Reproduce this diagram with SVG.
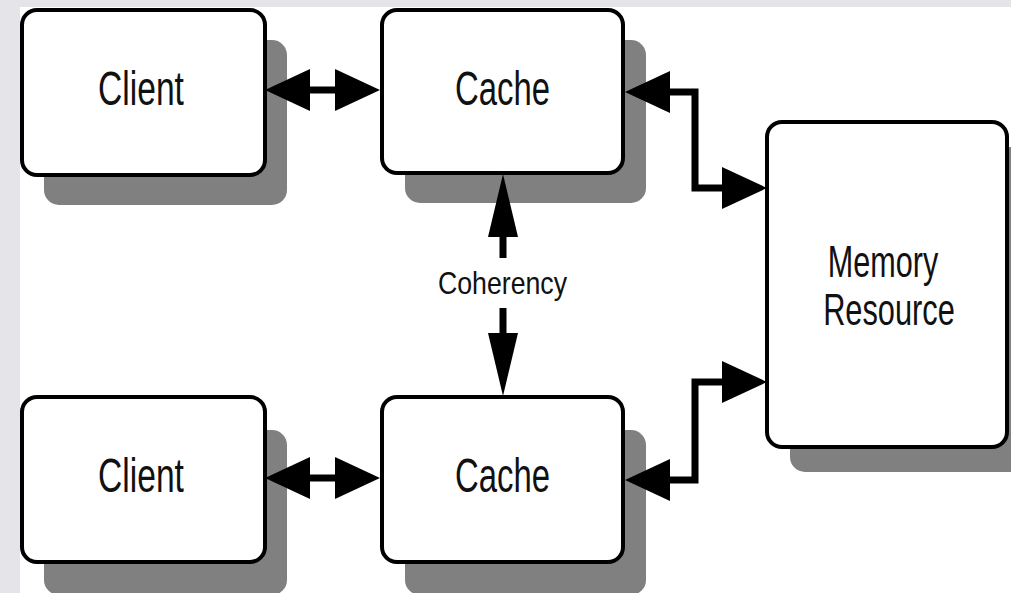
<svg xmlns="http://www.w3.org/2000/svg" width="1011" height="593" viewBox="0 0 1011 593">
<style>
.shadow{fill:#808080;}
.box{fill:#ffffff;stroke:#000000;stroke-width:4;}
.lbl{font-family:"Liberation Sans",Arial,sans-serif;fill:#111111;text-anchor:middle;}
.big{font-size:48px;}
.conn{fill:none;stroke:#000000;stroke-width:7;stroke-linejoin:miter;}
</style>
<defs>
<marker id="ah" markerUnits="userSpaceOnUse" viewBox="0 0 45 42" markerWidth="45" markerHeight="42" refX="0" refY="21" orient="auto-start-reverse">
<polygon points="0,0 45,21 0,42" fill="#000"/>
</marker>
<marker id="av" markerUnits="userSpaceOnUse" viewBox="0 0 63 30" markerWidth="63" markerHeight="30" refX="0" refY="15" orient="auto-start-reverse">
<polygon points="0,0 63,15 0,30" fill="#000"/>
</marker>
</defs>
<rect x="0" y="0" width="1011" height="593" fill="#e4e4e9"/>
<rect x="20" y="7" width="991" height="586" fill="#ffffff"/>

<g id="client-top">
<rect class="shadow" x="44" y="40" width="243" height="165" rx="15"/>
<rect class="box" x="22" y="10" width="243" height="165" rx="15"/>
<text class="lbl big" transform="translate(141,105) scale(0.70,1)">Client</text>
</g>
<g id="cache-top">
<rect class="shadow" x="405" y="40" width="241" height="163" rx="15"/>
<rect class="box" x="382" y="10" width="241" height="163" rx="15"/>
<text class="lbl big" transform="translate(502.5,105) scale(0.685,1)">Cache</text>
</g>
<g id="memory">
<rect class="shadow" x="790" y="147" width="240" height="325" rx="15"/>
<rect class="box" x="767" y="122" width="240" height="325" rx="15"/>
<text class="lbl" font-size="45" transform="translate(883,277) scale(0.68,1)">Memory</text>
<text class="lbl" font-size="45" transform="translate(889,325) scale(0.684,1)">Resource</text>
</g>
<g id="client-bottom">
<rect class="shadow" x="44" y="430" width="243" height="165" rx="15"/>
<rect class="box" x="22" y="397" width="243" height="165" rx="15"/>
<text class="lbl big" transform="translate(141,492) scale(0.70,1)">Client</text>
</g>
<g id="cache-bottom">
<rect class="shadow" x="405" y="430" width="241" height="165" rx="15"/>
<rect class="box" x="382" y="397" width="241" height="165" rx="15"/>
<text class="lbl big" transform="translate(502.5,492) scale(0.685,1)">Cache</text>
</g>

<g id="connectors">
<path class="conn" d="M310,90 L335,90" marker-start="url(#ah)" marker-end="url(#ah)"/>
<path class="conn" d="M310,478 L335,478" marker-start="url(#ah)" marker-end="url(#ah)"/>
<path class="conn" d="M670,92 L695,92 L695,188 L722,188" marker-start="url(#ah)" marker-end="url(#ah)"/>
<path class="conn" d="M722,382 L695,382 L695,480 L670,480" marker-start="url(#ah)" marker-end="url(#ah)"/>
<path class="conn" d="M503,258 L503,237" marker-end="url(#av)"/>
<path class="conn" d="M503,308 L503,333" marker-end="url(#av)"/>
<text class="lbl" font-size="32" transform="translate(502.5,294) scale(0.834,1)">Coherency</text>
</g>
</svg>
